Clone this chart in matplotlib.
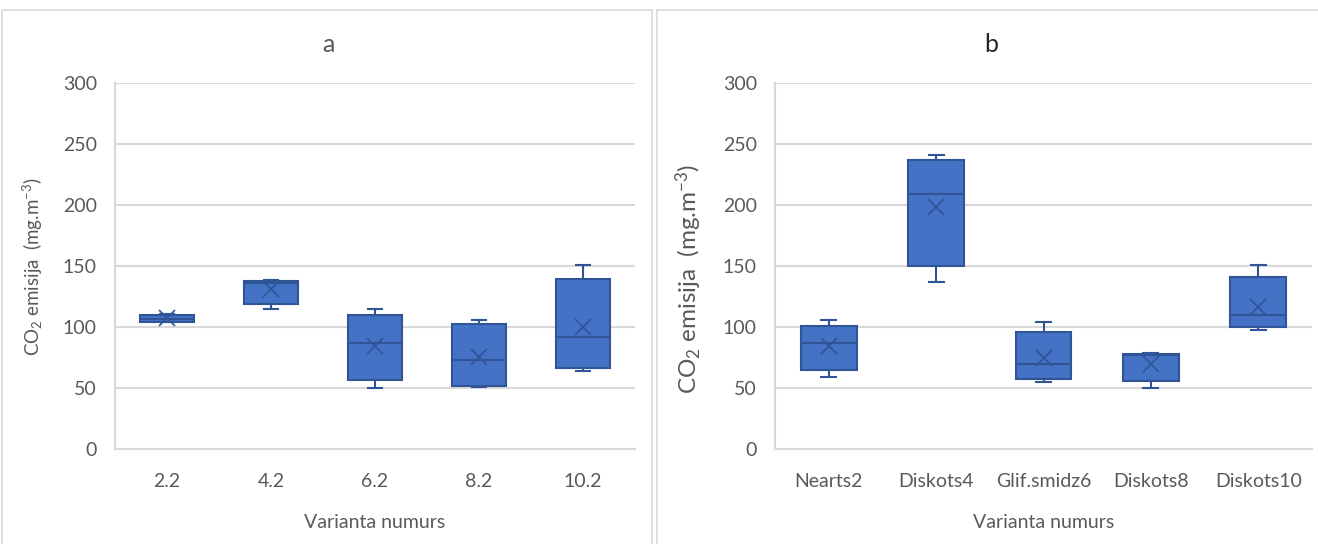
import matplotlib.pyplot as plt
from matplotlib.patches import Rectangle

plt.rcParams['font.family'] = ['Lato', 'DejaVu Sans']
plt.rcParams['mathtext.fontset'] = 'custom'
plt.rcParams['mathtext.rm'] = 'Lato'
plt.rcParams['mathtext.it'] = 'Lato:italic'

# panel a: variants by number
a_labels = ['2.2', '4.2', '6.2', '8.2', '10.2']
a_min = [104, 115, 50, 51, 64]
a_q1 = [104, 119, 57, 52, 67]
a_med = [107, 136, 87, 73, 92]
a_q3 = [110, 138, 110, 103, 140]
a_max = [111, 139, 115, 106, 151]
a_mean = [107.5, 131, 85, 76, 100]

# panel b: variants by tillage
b_labels = ['Nearts2', 'Diskots4', 'Glif.smidz6', 'Diskots8', 'Diskots10']
b_min = [59, 137, 55, 50, 98]
b_q1 = [65, 150, 58, 56, 100]
b_med = [87, 209, 70, 77, 110]
b_q3 = [101, 237, 96, 78, 141]
b_max = [106, 241, 104, 79, 151]
b_mean = [85, 199, 75, 70, 117]

W, H = 1318, 544
FILL = '#4472C4'
EDGE = '#2F5597'
GRID = '#D9D9D9'
TXT = '#595959'


def stats(labels, lo, q1, med, q3, hi, mean):
    return [dict(label=l, whislo=a, q1=b, med=c, q3=d, whishi=e, mean=f, fliers=[])
            for l, a, b, c, d, e, f in zip(labels, lo, q1, med, q3, hi, mean)]


def draw(ax, st):
    ax.bxp(st, widths=0.52, showmeans=True, patch_artist=True,
           boxprops=dict(facecolor=FILL, edgecolor=EDGE, linewidth=1.5),
           medianprops=dict(color=EDGE, linewidth=1.5),
           whiskerprops=dict(color=EDGE, linewidth=1.5),
           capprops=dict(color=EDGE, linewidth=1.5),
           capwidths=0.14,
           meanprops=dict(marker='x', markersize=11, markeredgecolor=EDGE,
                          markeredgewidth=1.2))
    ax.set_ylim(0, 300)
    ax.set_yticks(range(0, 301, 50))
    ax.set_xlim(0.5, len(st) + 0.5)
    ax.grid(axis='y', color=GRID, linewidth=1.5, zorder=0)
    ax.set_axisbelow(True)
    for s in ['top', 'right']:
        ax.spines[s].set_visible(False)
    for s in ['left', 'bottom']:
        ax.spines[s].set_color(GRID)
        ax.spines[s].set_linewidth(1.5)
    ax.tick_params(length=0, labelsize=14, labelcolor=TXT)
    ax.tick_params(axis='y', pad=13)
    ax.tick_params(axis='x', pad=17)


fig = plt.figure(figsize=(W / 100, H / 100), dpi=100)

# panel frames
fig.patches.append(Rectangle((2 / W, -0.01), 650 / W, 1 - 10 / H + 0.01,
                             transform=fig.transFigure, fill=False,
                             edgecolor=GRID, linewidth=1.2))
fig.patches.append(Rectangle((657 / W, -0.01), 700 / W, 1 - 10 / H + 0.01,
                             transform=fig.transFigure, fill=False,
                             edgecolor=GRID, linewidth=1.2))

ax1 = fig.add_axes([115 / W, 94.7 / H, 520 / W, 366 / H])
draw(ax1, stats(a_labels, a_min, a_q1, a_med, a_q3, a_max, a_mean))
ax2 = fig.add_axes([775 / W, 94.7 / H, 537 / W, 366 / H])
draw(ax2, stats(b_labels, b_min, b_q1, b_med, b_q3, b_max, b_mean))

fig.text(328 / W, 1 - 44 / H, 'a', ha='center', va='center', fontsize=18, color=TXT)
fig.text(991 / W, 1 - 44 / H, 'b', ha='center', va='center', fontsize=18, color='#262626')

fig.text(375 / W, 1 - 522 / H, 'Varianta numurs', ha='center', va='center',
         fontsize=14, color=TXT)
fig.text(1044 / W, 1 - 522 / H, 'Varianta numurs', ha='center', va='center',
         fontsize=14, color=TXT)

ylab = r'CO$_2$ emisija  (mg.m$^{-3}$)'
fig.text(33 / W, 1 - 267 / H, ylab, ha='center', va='center', rotation=90,
         fontsize=13.5, color=TXT)
fig.text(689 / W, 1 - 279 / H, ylab, ha='center', va='center', rotation=90,
         fontsize=17.5, color=TXT)

fig.savefig('out.png', dpi=100)
